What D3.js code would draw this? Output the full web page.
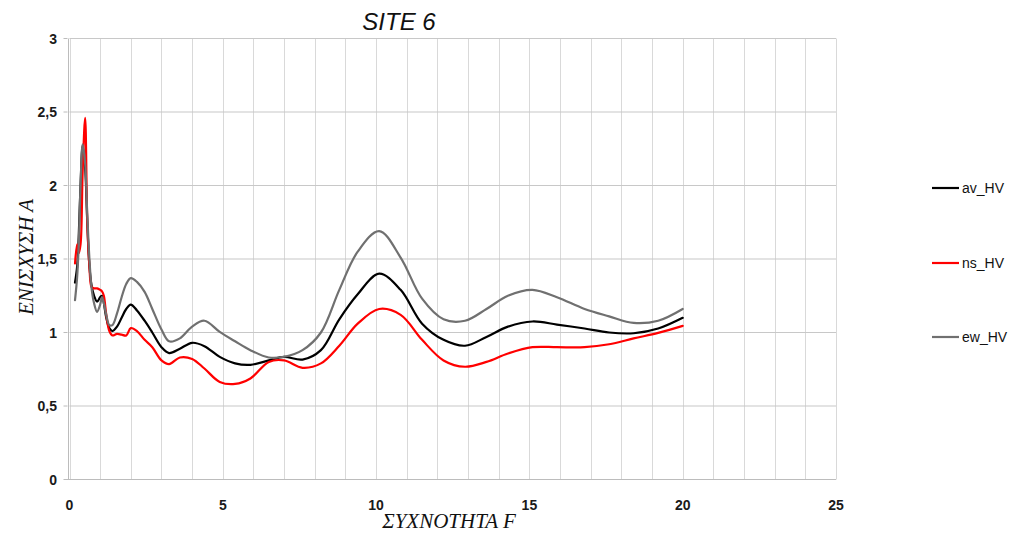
<!DOCTYPE html>
<html>
<head>
<meta charset="utf-8">
<script src="https://cdn.jsdelivr.net/npm/d3@7/dist/d3.min.js"></script>
<style>
  html, body { margin: 0; padding: 0; background: #fff; }
  svg { display: block; }
</style>
</head>
<body>
<svg id="chart" width="1011" height="533"></svg>
<script>
// Frequency samples (Hz) shared by the three H/V curves
const freq = [0.18, 0.25, 0.30, 0.36, 0.43, 0.51, 0.58, 0.65, 0.72, 0.80, 0.90, 1.0, 1.06, 1.12, 1.20, 1.30, 1.40, 1.55, 1.70, 1.85, 2.0, 2.2, 2.45, 2.7, 3.0, 3.25, 3.6, 4.0, 4.4, 4.9, 5.4, 5.9, 6.5, 7.0, 7.6, 8.2, 8.8, 9.4, 10.1, 10.8, 11.5, 12.2, 12.9, 13.6, 14.3, 15.1, 15.9, 16.8, 17.6, 18.4, 19.2, 20.0];

// Average H/V ratio
const avHV = [1.34, 1.45, 1.65, 2.00, 2.27, 2.12, 1.75, 1.45, 1.32, 1.25, 1.21, 1.24, 1.25, 1.20, 1.10, 1.03, 1.01, 1.04, 1.10, 1.16, 1.19, 1.15, 1.08, 1.00, 0.90, 0.86, 0.89, 0.93, 0.907, 0.834, 0.79, 0.78, 0.81, 0.834, 0.816, 0.88, 1.09, 1.26, 1.40, 1.29, 1.06, 0.95, 0.91, 0.97, 1.04, 1.075, 1.054, 1.027, 1.0, 0.995, 1.027, 1.10];

// North-south component H/V ratio
const nsHV = [1.47, 1.60, 1.54, 1.60, 2.10, 2.46, 1.75, 1.45, 1.31, 1.30, 1.30, 1.29, 1.28, 1.25, 1.12, 1.01, 0.98, 0.99, 0.985, 0.98, 1.03, 1.01, 0.95, 0.90, 0.81, 0.785, 0.83, 0.82, 0.755, 0.664, 0.65, 0.687, 0.80, 0.81, 0.76, 0.79, 0.91, 1.06, 1.16, 1.12, 0.95, 0.81, 0.767, 0.80, 0.857, 0.90, 0.90, 0.90, 0.92, 0.96, 0.997, 1.045];

// East-west component H/V ratio
const ewHV = [1.22, 1.38, 1.59, 2.00, 2.28, 2.15, 1.80, 1.50, 1.30, 1.20, 1.14, 1.19, 1.24, 1.20, 1.12, 1.05, 1.05, 1.13, 1.24, 1.33, 1.37, 1.344, 1.276, 1.16, 1.02, 0.94, 0.96, 1.04, 1.08, 1.004, 0.94, 0.88, 0.83, 0.835, 0.88, 1.00, 1.29, 1.55, 1.69, 1.51, 1.23, 1.09, 1.08, 1.16, 1.25, 1.29, 1.24, 1.16, 1.11, 1.065, 1.08, 1.16];

const seriesNames = ["av_HV", "ns_HV", "ew_HV"];
const seriesColors = ["#000000", "#ff0000", "#707070"];
const seriesValues = [avHV, nsHV, ewHV];

const xTicks = [0, 5, 10, 15, 20, 25];
const yTicks = [0, 0.5, 1, 1.5, 2, 2.5, 3];
const yTickLabels = ["0", "0,5", "1", "1,5", "2", "2,5", "3"];

const chartTitle = "SITE 6";
const xTitle = "ΣΥΧΝΟΤΗΤΑ F";
const yTitle = "ΕΝΙΣΧΥΣΗ Α";

const svg = d3.select("#chart");

const x = d3.scaleLinear().domain([0, 25]).range([69.5, 836]);
const y = d3.scaleLinear().domain([0, 3]).range([479.5, 38.5]);

// Grid: vertical lines at every unit, horizontal at every 0.5
const grid = svg.append("g");
grid.selectAll("line.v")
  .data(d3.range(0, 26))
  .join("line")
  .attr("x1", d => Math.round(x(d)) + 0.5)
  .attr("x2", d => Math.round(x(d)) + 0.5)
  .attr("y1", y(3))
  .attr("y2", y(0))
  .attr("stroke", "#d9d9d9")
  .attr("stroke-width", 1);
grid.selectAll("line.h")
  .data(yTicks)
  .join("line")
  .attr("x1", x(0))
  .attr("x2", x(25))
  .attr("y1", d => y(d))
  .attr("y2", d => y(d))
  .attr("stroke", "#c8c8c8")
  .attr("stroke-width", 1.2);

// Axis lines with outward ticks
const axisColor = "#bcbcbc";
svg.append("line")
  .attr("x1", Math.round(x(0)) - 1.5).attr("x2", Math.round(x(0)) - 1.5)
  .attr("y1", y(3)).attr("y2", y(0))
  .attr("stroke", axisColor);
svg.append("line")
  .attr("x1", x(0) - 4).attr("x2", x(25))
  .attr("y1", y(0)).attr("y2", y(0))
  .attr("stroke", axisColor).attr("stroke-width", 1.2);
svg.selectAll("line.yt")
  .data(yTicks)
  .join("line")
  .attr("x1", x(0) - 6).attr("x2", x(0) - 2)
  .attr("y1", d => y(d)).attr("y2", d => y(d))
  .attr("stroke", axisColor);

// Tick labels
svg.selectAll("text.ytl")
  .data(yTicks)
  .join("text")
  .attr("x", 57)
  .attr("y", d => y(d) + 5)
  .attr("text-anchor", "end")
  .attr("font-family", "Liberation Sans, Arial, sans-serif")
  .attr("font-weight", "bold")
  .attr("font-size", 14)
  .attr("fill", "#1a1a1a")
  .text((d, i) => yTickLabels[i]);

svg.selectAll("text.xtl")
  .data(xTicks)
  .join("text")
  .attr("x", d => x(d))
  .attr("y", 510)
  .attr("text-anchor", "middle")
  .attr("font-family", "Liberation Sans, Arial, sans-serif")
  .attr("font-weight", "bold")
  .attr("font-size", 14)
  .attr("fill", "#1a1a1a")
  .text(d => d);

// Curves
const line = d3.line()
  .x((d, i) => x(freq[i]))
  .y(d => y(d))
  .curve(d3.curveCatmullRom.alpha(0.5));

svg.append("g")
  .selectAll("path")
  .data(seriesValues)
  .join("path")
  .attr("d", d => line(d))
  .attr("fill", "none")
  .attr("stroke", (d, i) => seriesColors[i])
  .attr("stroke-width", 2.2)
  .attr("stroke-linejoin", "round")
  .attr("stroke-linecap", "round");

// Title
svg.append("text")
  .attr("x", 399)
  .attr("y", 30)
  .attr("text-anchor", "middle")
  .attr("font-family", "Liberation Sans, Arial, sans-serif")
  .attr("font-style", "italic")
  .attr("font-size", 24)
  .attr("fill", "#111")
  .text(chartTitle);

// Axis titles
svg.append("text")
  .attr("x", 449)
  .attr("y", 528)
  .attr("text-anchor", "middle")
  .attr("font-family", "Liberation Serif, Times New Roman, serif")
  .attr("font-style", "italic")
  .attr("font-size", 21)
  .attr("fill", "#111")
  .text(xTitle);

svg.append("text")
  .attr("transform", "translate(33,257) rotate(-90)")
  .attr("text-anchor", "middle")
  .attr("font-family", "Liberation Serif, Times New Roman, serif")
  .attr("font-style", "italic")
  .attr("font-size", 21)
  .attr("fill", "#111")
  .text(yTitle);

// Legend
const legendY = [188, 263, 337];
const legend = svg.append("g");
legend.selectAll("line")
  .data(seriesNames)
  .join("line")
  .attr("x1", 932).attr("x2", 959)
  .attr("y1", (d, i) => legendY[i]).attr("y2", (d, i) => legendY[i])
  .attr("stroke", (d, i) => seriesColors[i])
  .attr("stroke-width", 2.2);
legend.selectAll("text")
  .data(seriesNames)
  .join("text")
  .attr("x", 962)
  .attr("y", (d, i) => legendY[i] + 5)
  .attr("font-family", "Liberation Sans, Arial, sans-serif")
  .attr("font-size", 14)
  .attr("fill", "#111")
  .text(d => d);
</script>
</body>
</html>
